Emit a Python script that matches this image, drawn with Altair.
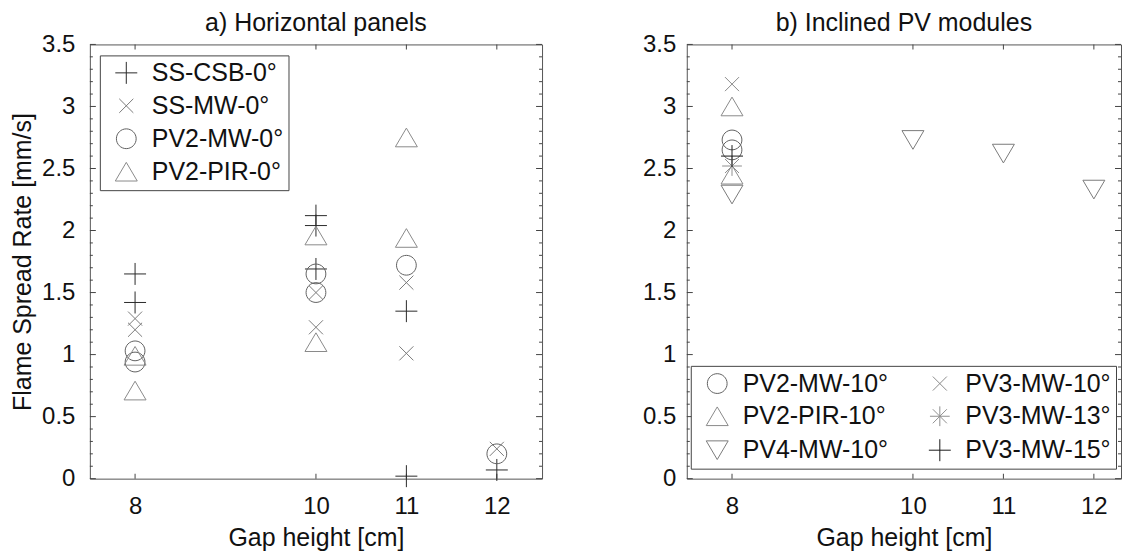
import altair as alt
import pandas as pd

# ---------------- panel a) Horizontal panels ----------------
series_a = ["SS-CSB-0°", "SS-MW-0°", "PV2-MW-0°", "PV2-PIR-0°"]
ss_csb_gap = [8, 8, 10, 10, 10, 11, 11, 12]
ss_csb_rate = [1.65, 1.42, 2.12, 2.04, 1.69, 1.35, 0.02, 0.07]
ss_mw_gap = [8, 8, 10, 10, 11, 11, 12]
ss_mw_rate = [1.29, 1.20, 1.50, 1.22, 1.58, 1.01, 0.24]
pv2_mw_gap = [8, 8, 10, 10, 11, 12]
pv2_mw_rate = [1.03, 0.94, 1.65, 1.50, 1.72, 0.20]
pv2_pir_gap = [8, 8, 10, 10, 11, 11]
pv2_pir_rate = [0.99, 0.71, 1.96, 1.10, 2.75, 1.94]

# ---------------- panel b) Inclined PV modules ----------------
series_b = ["PV2-MW-10°", "PV2-PIR-10°", "PV4-MW-10°", "PV3-MW-10°", "PV3-MW-13°", "PV3-MW-15°"]
pv2_mw10_gap = [8, 8]
pv2_mw10_rate = [2.73, 2.65]
pv2_pir10_gap = [8, 8]
pv2_pir10_rate = [3.00, 2.45]
pv4_mw10_gap = [8, 10, 11, 12]
pv4_mw10_rate = [2.29, 2.73, 2.62, 2.33]
pv3_mw10_gap = [8]
pv3_mw10_rate = [3.18]
pv3_mw13_gap = [8]
pv3_mw13_rate = [2.52]
pv3_mw15_gap = [8]
pv3_mw15_rate = [2.60]

# axis tick values
x_ticks = [8, 10, 11, 12]
y_major = [0, 0.5, 1, 1.5, 2, 2.5, 3, 3.5]
y_minor = [round(i / 10, 1) for i in range(36) if i % 5 != 0]
y_domain = [0, 3.5]

# marker shapes (SVG paths in the unit square)
PLUS = "M-1,0L1,0M0,-1L0,1"
CROSS = "M-0.64,-0.64L0.64,0.64M-0.64,0.64L0.64,-0.64"
CIRCLE = "M0.9,0A0.9,0.9,0,1,1,-0.9,0A0.9,0.9,0,1,1,0.9,0Z"
TRI_UP = "M0,-0.85L1,0.85L-1,0.85Z"
TRI_DOWN = "M0,0.85L1,-0.85L-1,-0.85Z"
STAR = "M-0.9,0L0.9,0M0,-0.9L0,0.9M-0.64,-0.64L0.64,0.64M-0.64,0.64L0.64,-0.64"

shapes_a = [PLUS, CROSS, CIRCLE, TRI_UP]
colors_a = ["#2a2a2a", "#7a7a7a", "#606060", "#8a8a8a"]
shapes_b = [CIRCLE, TRI_UP, TRI_DOWN, CROSS, STAR, PLUS]
colors_b = ["#606060", "#8a8a8a", "#7a7a7a", "#8a8a8a", "#8f8f8f", "#1a1a1a"]


def frame(series, gaps, rates):
    rows = []
    for s, g, r in zip(series, gaps, rates):
        for gg, rr in zip(g, r):
            rows.append({"gap": gg, "rate": rr, "series": s})
    return pd.DataFrame(rows)


df_a = frame(series_a,
             [ss_csb_gap, ss_mw_gap, pv2_mw_gap, pv2_pir_gap],
             [ss_csb_rate, ss_mw_rate, pv2_mw_rate, pv2_pir_rate])
df_b = frame(series_b,
             [pv2_mw10_gap, pv2_pir10_gap, pv4_mw10_gap, pv3_mw10_gap, pv3_mw13_gap, pv3_mw15_gap],
             [pv2_mw10_rate, pv2_pir10_rate, pv4_mw10_rate, pv3_mw10_rate, pv3_mw13_rate, pv3_mw15_rate])

FONT = "Liberation Sans"
TICK = "#444"
H = 435
X_TITLE = "Gap height [cm]"


def panel(df, series, shapes, colors, title, ytitle, legend, width, x_domain, ylab_pad):
    xs = alt.Scale(domain=x_domain, nice=False, zero=False)
    ys = alt.Scale(domain=y_domain, nice=False, zero=False)
    x_axis = alt.Axis(values=x_ticks, ticks=False, domain=False, grid=False,
                      labelPadding=16, labelFlush=False, titlePadding=7, format="d")
    y_axis = alt.Axis(values=y_major, ticks=False, domain=False, grid=False,
                      labelPadding=ylab_pad, labelFlush=False, titlePadding=6, format="~g")

    # inward tick marks on all four sides of the frame
    layers = []
    for values, length in ((y_major, 6), (y_minor, 3)):
        for edge, sign in ((x_domain[0], 1), (x_domain[1], -1)):
            layers.append(
                alt.Chart(pd.DataFrame({"v": values}))
                .mark_tick(orient="horizontal", size=length, thickness=1,
                           xOffset=sign * length / 2, color=TICK, opacity=1)
                .encode(x=alt.X(datum=edge, type="quantitative", scale=xs, title=X_TITLE,
                                axis=x_axis),
                        y=alt.Y("v:Q", scale=ys, title=ytitle, axis=y_axis))
            )
    for edge, sign in ((y_domain[0], -1), (y_domain[1], 1)):
        layers.append(
            alt.Chart(pd.DataFrame({"v": x_ticks}))
            .mark_tick(orient="vertical", size=5, thickness=1, yOffset=sign * 2.5,
                       color=TICK, opacity=1)
            .encode(x=alt.X("v:Q", scale=xs, title=X_TITLE, axis=x_axis),
                    y=alt.Y(datum=edge, type="quantitative", scale=ys, title=ytitle,
                            axis=y_axis))
        )

    pts = alt.Chart(df).mark_point(filled=False, size=484, strokeWidth=1, opacity=1).encode(
        x=alt.X("gap:Q", scale=xs, title=X_TITLE, axis=x_axis),
        y=alt.Y("rate:Q", scale=ys, title=ytitle, axis=y_axis),
        shape=alt.Shape("series:N", scale=alt.Scale(domain=series, range=shapes), legend=legend),
        color=alt.Color("series:N", scale=alt.Scale(domain=series, range=colors), legend=legend),
    )
    layers.append(pts)
    return alt.layer(*layers).properties(width=width, height=H, title=title)


legend_common = dict(
    title=None, orient="none", labelFont=FONT, labelFontSize=25, labelColor="#111",
    symbolSize=484, symbolStrokeWidth=1, fillColor="white", strokeColor="#444",
    padding=5, symbolOffset=9, labelOffset=13, rowPadding=7,
)
legend_a = alt.Legend(legendX=10, legendY=11, **legend_common)
legend_b = alt.Legend(legendX=4, legendY=322, columns=2, columnPadding=30, **legend_common)

left = panel(df_a, series_a, shapes_a, colors_a, "a) Horizontal panels",
             "Flame Spread Rate [mm/s]", legend_a, 453, [7.5, 12.5], 15)
right = panel(df_b, series_b, shapes_b, colors_b, "b) Inclined PV modules", None, legend_b,
              435, [7.5, 12.3], 11)

chart = (
    alt.hconcat(left, right, spacing=99)
    .resolve_scale(shape="independent", color="independent")
    .properties(padding={"left": 2, "top": 2, "right": 0, "bottom": 0})
    .configure_view(stroke="#555", strokeWidth=1)
    .configure_axis(
        labelFont=FONT, labelFontSize=24, labelColor="#111",
        titleFont=FONT, titleFontSize=25, titleFontWeight="normal", titleColor="#111",
    )
    .configure_title(font=FONT, fontSize=25, fontWeight="normal", color="#111",
                     offset={"expr": "-4"})
)

chart.save("out.html", embed_options={"renderer": "svg", "actions": False})
